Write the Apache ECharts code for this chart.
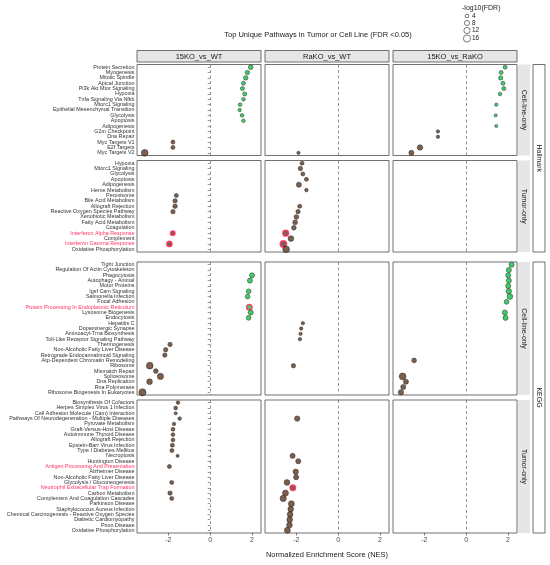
<!DOCTYPE html>
<html>
<head>
<meta charset="utf-8">
<script src="https://cdn.jsdelivr.net/npm/echarts@6/dist/echarts.min.js"></script>
<style>
  html, body { margin: 0; padding: 0; background: #fff; }
  #main { width: 550px; height: 565px; }
</style>
</head>
<body>
<div id="main"></div>
<script>
var FONT = 'Liberation Sans, Arial, sans-serif';

var comparisons = ['15KO_vs_WT', 'RaKO_vs_WT', '15KO_vs_RaKO'];
var rowGroups = ['Cell-line-only', 'Tumor-only', 'Cell-line-only', 'Tumor-only'];
var dbGroups = ['Hallmark', 'KEGG'];
var xTicks = [-2, 0, 2];
var legendValues = [4, 8, 12, 16];

// Hallmark, cell-line-only
var hallCellTerms = ['Protein Secretion', 'Myogenesis', 'Mitotic Spindle', 'Apical Junction', 'Pi3k Akt Mtor Signaling',
    'Hypoxia', 'Tnfa Signaling Via Nfkb', 'Mtorc1 Signaling', 'Epithelial Mesenchymal Transition', 'Glycolysis',
    'Apoptosis', 'Adipogenesis', 'G2m Checkpoint', 'Dna Repair', 'Myc Targets V1', 'E2f Targets', 'Myc Targets V2'];
var hallCellNES1 = [1.94, 1.78, 1.70, 1.59, 1.54, 1.65, 1.59, 1.43, 1.41, 1.52, 1.59, null, null, null, -1.78, -1.78, -3.13];
var hallCellFDR1 = [7, 6, 6, 5, 5, 5, 4, 4, 3.5, 4, 4, null, null, null, 5, 5, 14];
var hallCellNES2 = [null, null, null, null, null, null, null, null, null, null, null, null, null, null, null, null, -1.90];
var hallCellFDR2 = [null, null, null, null, null, null, null, null, null, null, null, null, null, null, null, null, 3.5];
var hallCellNES3 = [1.86, 1.67, 1.65, 1.76, 1.80, 1.62, null, 1.44, null, 1.41, null, 1.44, -1.35, -1.35, null, -2.21, -2.62];
var hallCellFDR3 = [5, 5, 6, 5, 5, 4, null, 3.5, null, 3, null, 3, 3.5, 3.5, null, 9, 8];

// Hallmark, tumor-only
var hallTumorTerms = ['Hypoxia', 'Mtorc1 Signaling', 'Glycolysis', 'Apoptosis', 'Adipogenesis', 'Heme Metabolism',
    'Peroxisome', 'Bile Acid Metabolism', 'Allograft Rejection', 'Reactive Oxygen Species Pathway', 'Xenobiotic Metabolism',
    'Fatty Acid Metabolism', 'Coagulation', 'Interferon Alpha Response', 'Complement', 'Interferon Gamma Response',
    'Oxidative Phosphorylation'];
var hallTumorNES1 = [null, null, null, null, null, null, -1.62, -1.68, -1.68, -1.78, null, null, null, -1.79, null, -1.95, null];
var hallTumorFDR1 = [null, null, null, null, null, null, 5, 6, 6, 6, null, null, null, 6, null, 8, null];
var hallTumorNES2 = [-1.73, -1.81, -1.69, -1.52, -1.88, -1.52, null, null, -1.84, -1.92, -2.00, -2.06, -2.12, -2.51, -2.26, -2.62, -2.49];
var hallTumorFDR2 = [5, 6, 5, 5, 8, 4, null, null, 5, 6, 7, 7, 7, 10, 10, 12, 14];
var hallTumorNES3 = [];
var hallTumorFDR3 = [];

// KEGG, cell-line-only
var keggCellTerms = ['Tight Junction', 'Regulation Of Actin Cytoskeleton', 'Phagocytosis', 'Autophagy - Animal',
    'Motor Proteins', 'Igsf Cam Signaling', 'Salmonella Infection', 'Focal Adhesion',
    'Protein Processing In Endoplasmic Reticulum', 'Lysosome Biogenesis', 'Endocytosis', 'Hepatitis C',
    'Dopaminergic Synapse', 'Aminoacyl-Trna Biosynthesis', 'Toll-Like Receptor Signaling Pathway', 'Thermogenesis',
    'Non-Alcoholic Fatty Liver Disease', 'Retrograde Endocannabinoid Signaling', 'Atp-Dependent Chromatin Remodeling',
    'Ribosome', 'Mismatch Repair', 'Spliceosome', 'Dna Replication', 'Rna Polymerase', 'Ribosome Biogenesis In Eukaryotes'];
var keggCellNES1 = [null, null, 2.00, 1.90, null, 1.84, 1.79, null, 1.87, 1.94, 1.84, null, null, null, null,
    -1.92, -2.13, -2.17, null, -2.89, -2.60, -2.38, -2.90, null, -3.24];
var keggCellFDR1 = [null, null, 8, 8, null, 7, 7, null, 9, 8, 7, null, null, null, null,
    6, 6, 6, null, 14, 7, 12, 10, null, 16];
var keggCellNES2 = [null, null, null, null, null, null, null, null, null, null, null, -1.69, -1.77, -1.80, -1.83,
    null, null, null, null, -2.14, null, null, null, null, null];
var keggCellFDR2 = [null, null, null, null, null, null, null, null, null, null, null, 3.5, 3.5, 3.5, 3.5,
    null, null, null, null, 6, null, null, null, null, null];
var keggCellNES3 = [2.17, 2.04, 2.01, 2.04, 2.01, 2.04, 2.09, 1.93, null, 1.85, 1.88, null, null, null, null,
    null, null, null, -2.49, null, null, -3.04, -2.88, -3.01, -3.12];
var keggCellFDR3 = [8, 8, 8, 8, 8, 9, 10, 7, null, 8, 8, null, null, null, null,
    null, null, null, 7, null, null, 14, 8, 8, 9];

// KEGG, tumor-only
var keggTumorTerms = ['Biosynthesis Of Cofactors', 'Herpes Simplex Virus 1 Infection', 'Cell Adhesion Molecule (Cam) Interaction',
    'Pathways Of Neurodegeneration - Multiple Diseases', 'Pyruvate Metabolism', 'Graft-Versus-Host Disease',
    'Autoimmune Thyroid Disease', 'Allograft Rejection', 'Epstein-Barr Virus Infection', 'Type I Diabetes Mellitus',
    'Necroptosis', 'Huntington Disease', 'Antigen Processing And Presentation', 'Alzheimer Disease',
    'Non-Alcoholic Fatty Liver Disease', 'Glycolysis / Gluconeogenesis', 'Neutrophil Extracellular Trap Formation',
    'Carbon Metabolism', 'Complement And Coagulation Cascades', 'Parkinson Disease', 'Staphylococcus Aureus Infection',
    'Chemical Carcinogenesis - Reactive Oxygen Species', 'Diabetic Cardiomyopathy', 'Prion Disease', 'Oxidative Phosphorylation'];
var keggTumorNES1 = [-1.54, -1.65, -1.65, -1.46, -1.73, -1.78, -1.78, -1.78, -1.81, -1.83, -1.56, null, -1.95,
    null, null, -1.84, null, -1.92, -1.84, null, null, null, null, null, null];
var keggTumorFDR1 = [4, 4.5, 3, 4, 4, 4.5, 4.5, 4.5, 5, 5, 3, null, 5,
    null, null, 5, null, 6, 5, null, null, null, null, null, null];
var keggTumorNES2 = [null, null, null, -1.96, null, null, null, null, null, null, -2.18, -1.91, null,
    -2.03, -2.01, -2.45, -2.17, -2.52, -2.63, -2.24, -2.27, -2.30, -2.32, -2.33, -2.43];
var keggTumorFDR2 = [null, null, null, 9, null, null, null, null, null, null, 8, 8, null,
    9, 8, 10, 9, 11, 12, 11, 10, 10, 10, 10, 11];
var keggTumorNES3 = [];
var keggTumorFDR3 = [];

var redTerms = ['Interferon Alpha Response', 'Interferon Gamma Response', 'Protein Processing In Endoplasmic Reticulum',
    'Antigen Processing And Presentation', 'Neutrophil Extracellular Trap Formation'];
var redDots = ['15KO_vs_WT|Interferon Alpha Response', '15KO_vs_WT|Interferon Gamma Response',
    '15KO_vs_WT|Protein Processing In Endoplasmic Reticulum', 'RaKO_vs_WT|Interferon Alpha Response',
    'RaKO_vs_WT|Interferon Gamma Response', 'RaKO_vs_WT|Neutrophil Extracellular Trap Formation'];

var panels = [
    { terms: hallCellTerms, nes: [hallCellNES1, hallCellNES2, hallCellNES3], fdr: [hallCellFDR1, hallCellFDR2, hallCellFDR3] },
    { terms: hallTumorTerms, nes: [hallTumorNES1, hallTumorNES2, hallTumorNES3], fdr: [hallTumorFDR1, hallTumorFDR2, hallTumorFDR3] },
    { terms: keggCellTerms, nes: [keggCellNES1, keggCellNES2, keggCellNES3], fdr: [keggCellFDR1, keggCellFDR2, keggCellFDR3] },
    { terms: keggTumorTerms, nes: [keggTumorNES1, keggTumorNES2, keggTumorNES3], fdr: [keggTumorFDR1, keggTumorFDR2, keggTumorFDR3] }
];

// layout
var colLeft = [137, 265, 393];
var colWidth = 124;
var rowTop = [64.5, 160.5, 262, 400];
var rowHeight = [91, 91.5, 133, 133];

function sizeOf(v) {
    return 1.8 * Math.sqrt(v);
}

var grids = [], xAxes = [], yAxes = [], series = [];

panels.forEach(function (panel, r) {
    comparisons.forEach(function (comp, c) {
        var g = grids.length;
        grids.push({
            left: colLeft[c], top: rowTop[r], width: colWidth, height: rowHeight[r],
            show: true, borderColor: '#4d4d4d', borderWidth: 0.8, backgroundColor: '#fff'
        });
        xAxes.push({
            type: 'value', gridIndex: g, min: -3.5, max: 2.43,
            splitLine: { show: false },
            axisLine: { show: false },
            axisTick: { show: r === 3, customValues: xTicks, length: 2.5, lineStyle: { color: '#333', width: 0.6 } },
            axisLabel: { show: r === 3, customValues: xTicks, fontSize: 7, color: '#4d4d4d', margin: 4, fontFamily: FONT }
        });
        yAxes.push({
            type: 'category', gridIndex: g, data: panel.terms, inverse: true,
            axisLine: { show: false },
            splitLine: { show: false },
            axisTick: { show: c === 0, alignWithLabel: true, length: 2.5, lineStyle: { color: '#333', width: 0.5 } },
            axisLabel: {
                show: c === 0, interval: 0, fontSize: 5.4, margin: 2.5, fontFamily: FONT, color: '#333',
                formatter: function (v) {
                    return redTerms.indexOf(v) >= 0 ? '{r|' + v + '}' : v;
                },
                rich: { r: { color: '#ff3366', fontSize: 5.4, fontFamily: FONT } }
            }
        });

        var data = [];
        var nes = panel.nes[c], fdr = panel.fdr[c];
        for (var i = 0; i < nes.length; i++) {
            if (nes[i] === null || nes[i] === undefined) continue;
            var red = redDots.indexOf(comp + '|' + panel.terms[i]) >= 0;
            data.push({
                value: [nes[i], i],
                symbolSize: sizeOf(fdr[i]),
                itemStyle: {
                    color: nes[i] > 0 ? '#14bf45' : '#5b3820',
                    borderColor: red ? '#ff2a5e' : '#222',
                    borderWidth: red ? 1.6 : 0.6
                }
            });
        }
        series.push({
            type: 'scatter', xAxisIndex: g, yAxisIndex: g, data: data,
            silent: true, z: 3,
            markLine: {
                silent: true, symbol: 'none', label: { show: false }, z: 1,
                lineStyle: { type: [3, 2.5], color: '#777', width: 0.8 },
                data: [{ xAxis: 0 }]
            }
        });
    });
});

var graphics = [];

// title
graphics.push({
    type: 'text', x: 318, y: 35,
    style: { text: 'Top Unique Pathways in Tumor or Cell Line (FDR <0.05)', font: '7.5px ' + FONT, fill: '#1a1a1a', align: 'center', verticalAlign: 'middle' }
});

// size legend
graphics.push({
    type: 'text', x: 462, y: 8,
    style: { text: '-log10(FDR)', font: '7px ' + FONT, fill: '#1a1a1a', align: 'left', verticalAlign: 'middle' }
});
var legY = [16, 23, 30.5, 38.5];
legendValues.forEach(function (v, k) {
    graphics.push({
        type: 'circle', shape: { cx: 467, cy: legY[k], r: sizeOf(v) / 2 },
        style: { fill: '#fff', stroke: '#222', lineWidth: 0.6 }
    });
    graphics.push({
        type: 'text', x: 472, y: legY[k],
        style: { text: String(v), font: '6.5px ' + FONT, fill: '#1a1a1a', align: 'left', verticalAlign: 'middle' }
    });
});

// column strips
comparisons.forEach(function (comp, c) {
    graphics.push({
        type: 'rect', shape: { x: colLeft[c], y: 50.5, width: colWidth, height: 11.5 },
        style: { fill: '#e6e6e6', stroke: '#4d4d4d', lineWidth: 0.8 }
    });
    graphics.push({
        type: 'text', x: colLeft[c] + colWidth / 2, y: 56.5,
        style: { text: comp, font: '7.5px ' + FONT, fill: '#1a1a1a', align: 'center', verticalAlign: 'middle' }
    });
});

// row strips
rowGroups.forEach(function (grp, r) {
    graphics.push({
        type: 'rect', shape: { x: 518, y: rowTop[r], width: 12, height: rowHeight[r] },
        style: { fill: '#e6e6e6' }
    });
    graphics.push({
        type: 'text', x: 524, y: rowTop[r] + rowHeight[r] / 2, rotation: -Math.PI / 2,
        style: { text: grp, font: '7px ' + FONT, fill: '#1a1a1a', align: 'center', verticalAlign: 'middle' }
    });
});

// database strips
dbGroups.forEach(function (db, k) {
    var top = rowTop[k * 2];
    var bottom = rowTop[k * 2 + 1] + rowHeight[k * 2 + 1];
    graphics.push({
        type: 'rect', shape: { x: 533, y: top, width: 12, height: bottom - top },
        style: { fill: '#fff', stroke: '#4d4d4d', lineWidth: 0.8 }
    });
    graphics.push({
        type: 'text', x: 539, y: (top + bottom) / 2, rotation: -Math.PI / 2,
        style: { text: db, font: '7px ' + FONT, fill: '#1a1a1a', align: 'center', verticalAlign: 'middle' }
    });
});

// x axis title
graphics.push({
    type: 'text', x: 327, y: 555,
    style: { text: 'Normalized Enrichment Score (NES)', font: '7.5px ' + FONT, fill: '#1a1a1a', align: 'center', verticalAlign: 'middle' }
});

var myChart = echarts.init(document.getElementById('main'), null, { renderer: 'canvas' });
var option = {
    backgroundColor: '#fff',
    animation: false,
    grid: grids,
    xAxis: xAxes,
    yAxis: yAxes,
    series: series,
    graphic: graphics
};
myChart.setOption(option, true);
window.onresize = myChart.resize;
</script>
</body>
</html>
